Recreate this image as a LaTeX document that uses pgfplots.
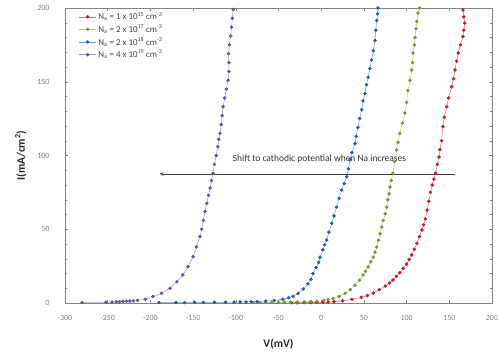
\documentclass[border=0pt]{standalone}
\usepackage{fontspec}
\setmainfont{Carlito}
\usepackage{pgfplots}
\pgfplotsset{compat=1.18}
\definecolor{cred}{RGB}{225,35,50}
\definecolor{cgreen}{RGB}{145,190,75}
\definecolor{cblue}{RGB}{45,110,185}
\definecolor{cpurple}{RGB}{130,95,170}
\definecolor{axgray}{RGB}{130,130,130}
\begin{document}
\begin{tikzpicture}
\begin{axis}[
  name=ax,
  scale only axis,
  width=427bp, height=295bp,
  xmin=-300, xmax=200, ymin=0, ymax=200,
  xtick={-300,-250,...,200},
  ytick={0,50,...,200},
  minor y tick num=4,
  tick align=inside,
  major tick length=3bp, minor tick length=2bp,
  axis line style={axgray, line width=0.8pt},
  every tick/.style={axgray},
  tick label style={font=\fontsize{8}{9}\selectfont, text=black!50},
  xticklabel style={yshift=-9bp},
  yticklabel style={xshift=-12bp},
  /pgf/number format/assume math mode=true,
  scaled ticks=false,
  xlabel={\textbf{V(mV)}},
  ylabel={\textbf{I(mA/cm\textsuperscript{2})}},
  label style={font=\fontsize{11.5}{12}\selectfont, text=black!85},
  xlabel style={yshift=-11bp},
  ylabel style={yshift=4bp},
  legend style={draw=none, fill=none, at={(0.025,1.0)}, anchor=north west,
    font=\fontsize{9}{10}\selectfont, row sep=-0.6pt, text=black!75},
  legend cell align=left,
  every axis plot/.append style={line width=0.5pt, mark=*, mark size=1.5pt},
]
\addplot[cred!70, mark options={fill=cred!85!black, draw=cred!85!black}] coordinates {
(-35,0.2)(-28,0.2)(-20,0.3)(-12,0.3)(-5,0.4)(2,0.5)(8,0.6)(15,0.9)(25,1.5)(36,2.5)(47,3.8)(54,5)(61,6.8)(68,9)(75,11.5)(80,13.5)(84,15.6)(88,18)(92,20.5)(96,23.5)(100,26.4)(103,29.5)(106,32.5)(109,36.5)(112,40.5)(115,45)(118,49.5)(120,53)(122,57)(124,63)(126,69)(128,75)(130,80)(132,84)(134,88)(136,94)(138,99)(139,104)(141,110)(142.6,119.6)(144,126)(147,133)(149,139)(152.8,146.6)(155,152)(156.7,158)(158.5,164)(160.4,169.5)(163,175)(166,180.6)(167,185)(168,189.8)(167,194)(166,198.6)
};
\addlegendentry{N\textsubscript{a} = 1 x 10\textsuperscript{15} cm\textsuperscript{-3}}
\addplot[cgreen!75, mark options={fill=cgreen!80!black, draw=cgreen!80!black}] coordinates {
(-80,0.3)(-72,0.3)(-65,0.4)(-58,0.4)(-50,0.5)(-43,0.5)(-36,0.6)(-28,0.7)(-20,0.8)(-12,1)(-5,1.2)(3,1.8)(8,2.3)(14,3)(21,4.5)(28,6.6)(34,9)(39.6,12)(45,15.5)(49,19)(52,21.5)(55,24.5)(58,28)(61,31)(63,34.5)(65,38)(67,42.5)(69,47)(71,51.5)(72.6,56)(75,60.5)(76.7,65)(78,70)(79.5,74)(80.6,78.6)(82,83)(84,88)(86,96)(88.4,103.7)(90,109)(92,115)(95,122)(98,128.8)(100,136)(101.6,144)(104,151)(106,158)(107,163)(107.5,169.5)(109,175)(109.8,180)(111,186)(112,191)(113.3,196.6)(115,200)
};
\addlegendentry{N\textsubscript{a} = 2 x 10\textsuperscript{17} cm\textsuperscript{-3}}
\addplot[cblue!70, mark options={fill=cblue!85!black, draw=cblue!85!black}] coordinates {
(-190,0.3)(-170,0.3)(-160,0.3)(-148,0.4)(-138,0.4)(-125,0.5)(-112,0.5)(-102,0.6)(-95,0.7)(-88,0.7)(-82,0.8)(-75,1)(-65,1.3)(-55,1.8)(-45,2.5)(-38,3.5)(-33,4.5)(-27,6.5)(-21,9.5)(-15.5,13)(-12,16)(-9.6,20)(-6,24)(-3,27.5)(-1.4,31)(2,36)(4,39.5)(6.4,42.7)(9,48)(12.3,54)(15,59)(18,65)(21,71)(24,76.6)(27,81)(29.9,85.6)(32,91)(33.7,97)(36,102)(39.6,108)(41,113)(43,119)(45,125)(47.4,131)(49,137)(51.3,142)(53,148)(55,153)(57,159)(59,164.7)(61,171)(63,178)(64,185)(65,191.5)(66,196)(66.5,200)
};
\addlegendentry{N\textsubscript{a} = 2 x 10\textsuperscript{18} cm\textsuperscript{-3}}
\addplot[cpurple!70, mark options={fill=cpurple!85!black, draw=cpurple!85!black}] coordinates {
(-280,0.3)(-252,0.5)(-245,0.6)(-240,0.8)(-236,0.9)(-232,1)(-228,1.2)(-224,1.3)(-220,1.5)(-215,1.8)(-206,2.5)(-197,4.4)(-187,6.6)(-177,10)(-169,14.4)(-162,19)(-156,24.6)(-150,31.4)(-146,38)(-142,45)(-140,50)(-138,56)(-136,62)(-134,67.6)(-132,73)(-130,78)(-128.5,83)(-126.7,88)(-125,94)(-123,100)(-121,106)(-120,111)(-118.5,115)(-117,121)(-116,127)(-115,133)(-113,139)(-111,145)(-109,151)(-108,157)(-108,163)(-108.5,169)(-107.5,175)(-106,181)(-105,187)(-104,193)(-103,199)
};
\addlegendentry{N\textsubscript{a} = 4 x 10\textsuperscript{19} cm\textsuperscript{-3}}
\draw[-stealth, black!75, line width=0.6pt] (axis cs:157,87.5) -- (axis cs:-189,87.5);
\node[font=\fontsize{9.5}{10}\selectfont, text=black!80] at (axis cs:-2,97.5) {Shift to cathodic potential when Na increases};
\end{axis}
\pgfresetboundingbox
\path[use as bounding box] ([xshift=-65bp,yshift=-54bp]ax.south west) rectangle ([xshift=6bp,yshift=8bp]ax.north east);
\end{tikzpicture}
\end{document}
